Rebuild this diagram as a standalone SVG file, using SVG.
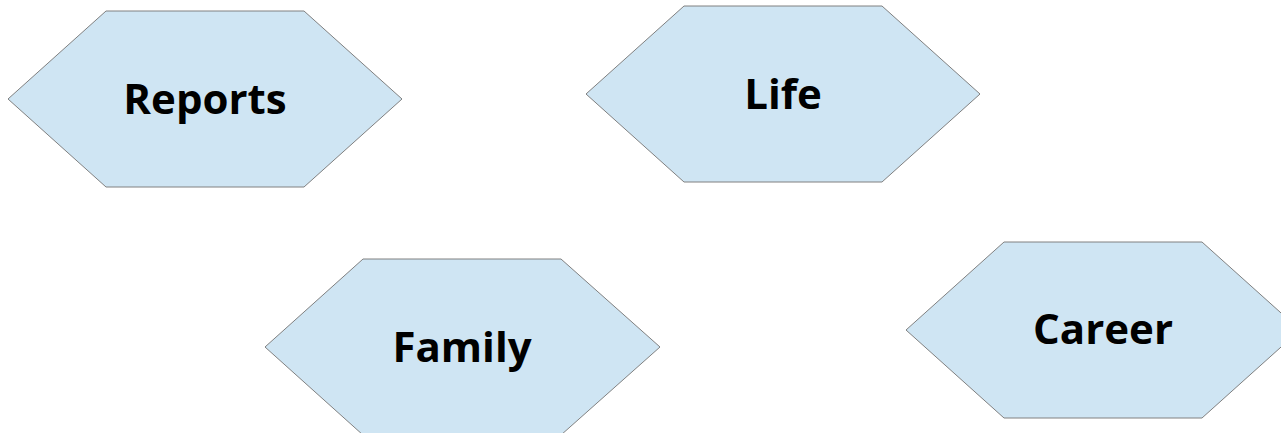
<svg xmlns="http://www.w3.org/2000/svg" width="1281" height="433" viewBox="0 0 1281 433">
<style>
.hex{fill:#cfe5f3;stroke:#808080;stroke-width:1}
.lbl{font-family:"Open Sans","Noto Sans",sans-serif;font-weight:bold;font-size:42px;fill:#000;text-anchor:middle}
</style>
<rect width="1281" height="433" fill="#fff"/>
<g id="connectors"></g>
<g id="reports">
<polygon class="hex" points="106,11 304,11 402,99 304,187 106,187 8,99"/>
<text class="lbl" x="205" y="114">Reports</text>
</g>
<g id="life">
<polygon class="hex" points="684,6 882,6 980,94 882,182 684,182 586,94"/>
<text class="lbl" x="783" y="109">Life</text>
</g>
<g id="family">
<polygon class="hex" points="363,259 561,259 660,347 561,435 363,435 265,347"/>
<text class="lbl" x="462" y="362">Family</text>
</g>
<g id="career">
<polygon class="hex" points="1004,242 1202,242 1300,330 1202,418 1004,418 906,330"/>
<text class="lbl" x="1103" y="344">Career</text>
</g>
</svg>
